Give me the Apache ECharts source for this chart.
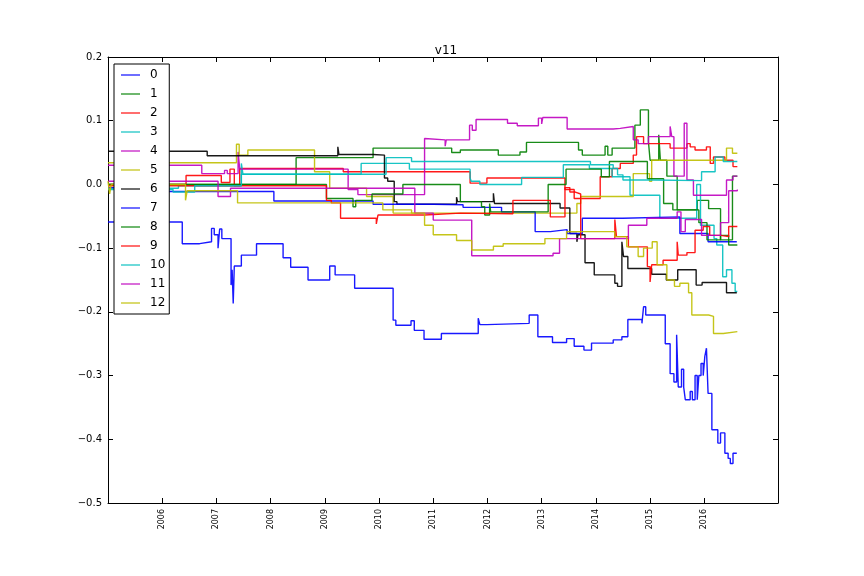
<!DOCTYPE html>
<html>
<head>
<meta charset="utf-8">
<script src="https://cdn.jsdelivr.net/npm/echarts@6/dist/echarts.min.js"></script>
<style>
  html, body { margin: 0; padding: 0; background: #fff; }
  #main { width: 864px; height: 576px; }
</style>
</head>
<body>
<div id="main"></div>
<script>
// series names and year ticks
var names = ['0','1','2','3','4','5','6','7','8','9','10','11','12'];
var yearTicks = [2006,2007,2008,2009,2010,2011,2012,2013,2014,2015,2016];
var colors = ['#0000ff','#008000','#ff0000','#00bfbf','#bf00bf','#bfbf00','#000000',
              '#0000ff','#008000','#ff0000','#00bfbf','#bf00bf','#bfbf00'];

// [decimal year, value] step points
var s0 = [[2005.00,-0.059],[2006.37,-0.093],[2006.69,-0.090],[2006.91,-0.069],[2006.96,-0.079],[2007.03,-0.100],[2007.06,-0.070],[2007.10,-0.085],[2007.27,-0.158],[2007.29,-0.134],[2007.31,-0.187],[2007.33,-0.128],[2007.46,-0.111],[2007.74,-0.093],[2008.23,-0.115],[2008.37,-0.130],[2008.69,-0.150],[2009.09,-0.128],[2009.19,-0.142],[2009.55,-0.163],[2010.26,-0.213],[2010.31,-0.221],[2010.59,-0.214],[2010.65,-0.229],[2010.83,-0.243],[2011.15,-0.234],[2011.83,-0.210],[2011.86,-0.220],[2011.99,-0.218],[2012.77,-0.205],[2012.93,-0.239],[2013.20,-0.248],[2013.46,-0.242],[2013.60,-0.254],[2013.78,-0.260],[2013.92,-0.249],[2014.32,-0.244],[2014.48,-0.239],[2014.59,-0.212],[2014.85,-0.218],[2014.88,-0.192],[2014.92,-0.205],[2015.28,-0.250],[2015.37,-0.297],[2015.44,-0.310],[2015.49,-0.236],[2015.52,-0.318],[2015.58,-0.290],[2015.62,-0.318],[2015.65,-0.338],[2015.74,-0.325],[2015.78,-0.338],[2015.83,-0.300],[2015.87,-0.338],[2015.90,-0.300],[2015.94,-0.281],[2015.98,-0.300],[2016.01,-0.270],[2016.04,-0.257],[2016.07,-0.328],[2016.14,-0.385],[2016.25,-0.406],[2016.30,-0.390],[2016.38,-0.422],[2016.44,-0.430],[2016.48,-0.438],[2016.53,-0.422],[2016.60,-0.422]];
var s1 = [[2005.00,0.000],[2008.47,0.042],[2009.89,0.057],[2011.34,0.050],[2011.50,0.054],[2012.20,0.046],[2012.60,0.051],[2012.72,0.066],[2013.68,0.054],[2013.75,0.046],[2014.17,0.060],[2014.22,0.046],[2014.30,0.057],[2014.72,0.093],[2014.82,0.117],[2014.97,0.067],[2015.00,0.038],[2015.16,0.078],[2015.19,0.038],[2015.31,0.013],[2015.50,-0.040],[2015.87,-0.025],[2016.08,-0.038],[2016.30,-0.087],[2016.52,0.013],[2016.61,0.013]];
var s2 = [[2005.00,0.000],[2006.44,0.014],[2007.09,0.003],[2007.25,0.024],[2007.33,-0.002],[2007.43,0.025],[2009.34,0.020],[2011.68,0.002],[2011.99,0.010],[2013.43,-0.008],[2013.60,-0.022],[2014.08,0.012],[2014.30,0.025],[2014.45,0.033],[2014.69,0.046],[2014.75,0.075],[2014.88,0.064],[2015.37,0.057],[2015.68,0.064],[2015.74,0.059],[2015.83,0.054],[2016.04,0.059],[2016.11,0.033],[2016.17,0.043],[2016.38,0.038],[2016.53,0.028],[2016.61,0.028]];
var s3 = [[2005.00,-0.006],[2006.30,-0.002],[2007.46,0.033],[2007.49,0.016],[2009.67,0.033],[2010.56,0.024],[2011.68,0.010],[2011.70,0.005],[2011.86,0.000],[2012.63,0.011],[2013.40,0.031],[2013.88,0.025],[2014.30,0.012],[2014.63,-0.017],[2015.18,-0.053],[2015.86,0.000],[2015.93,-0.064],[2016.18,-0.085],[2016.23,-0.095],[2016.34,-0.145],[2016.41,-0.134],[2016.51,-0.155],[2016.57,-0.168],[2016.61,-0.168]];
var s4 = [[2005.00,0.030],[2006.73,0.017],[2007.15,0.022],[2007.20,0.017],[2007.40,0.051],[2007.43,0.024],[2009.43,-0.008],[2009.61,-0.016],[2010.84,0.072],[2010.87,0.070],[2011.22,0.060],[2011.24,0.070],[2011.67,0.093],[2011.72,0.085],[2011.79,0.102],[2012.37,0.096],[2012.55,0.092],[2012.94,0.104],[2013.00,0.095],[2013.02,0.105],[2013.47,0.087],[2014.32,0.088],[2014.45,0.091],[2014.69,0.070],[2014.78,0.064],[2014.97,0.075],[2015.37,0.091],[2015.40,0.075],[2015.44,0.013],[2015.63,0.096],[2015.68,0.007],[2015.80,-0.017],[2016.41,0.007],[2016.53,0.013],[2016.61,0.013]];
var s5 = [[2005.00,0.034],[2007.37,0.063],[2007.42,0.046],[2007.58,0.054],[2008.81,0.020],[2009.09,-0.006],[2009.77,-0.019],[2010.26,-0.040],[2010.60,-0.045],[2013.65,-0.030],[2013.72,-0.019],[2014.69,0.017],[2014.99,0.005],[2015.03,0.038],[2016.41,0.057],[2016.52,0.049],[2016.61,0.049]];
var s6 = [[2005.00,0.052],[2006.83,0.045],[2009.24,0.059],[2009.26,0.047],[2009.89,0.046],[2010.10,0.010],[2010.16,0.005],[2010.28,-0.027],[2010.33,-0.031],[2011.43,-0.020],[2011.45,-0.027],[2012.11,-0.014],[2012.13,-0.030],[2013.34,-0.037],[2013.52,-0.077],[2013.65,-0.090],[2013.67,-0.079],[2013.80,-0.123],[2013.97,-0.142],[2014.35,-0.155],[2014.40,-0.160],[2014.48,-0.090],[2014.51,-0.113],[2014.59,-0.132],[2015.03,-0.141],[2015.30,-0.150],[2015.51,-0.134],[2015.85,-0.158],[2015.96,-0.154],[2016.41,-0.170],[2016.60,-0.170]];
var s7 = [[2005.00,-0.005],[2005.60,-0.011],[2008.06,-0.026],[2009.89,-0.031],[2011.00,-0.032],[2011.55,-0.036],[2012.26,-0.043],[2012.88,-0.074],[2013.16,-0.071],[2013.47,-0.077],[2013.75,-0.053],[2014.50,-0.051],[2015.55,-0.077],[2016.07,-0.090],[2016.60,-0.090]];
var s8 = [[2005.00,0.000],[2009.03,-0.022],[2009.52,-0.035],[2009.57,-0.025],[2009.87,-0.015],[2010.44,0.000],[2011.50,-0.027],[2011.89,-0.035],[2011.95,-0.048],[2012.04,-0.030],[2012.06,-0.043],[2013.12,0.000],[2013.45,0.024],[2014.10,0.012],[2014.25,0.036],[2014.95,0.009],[2015.25,-0.030],[2015.42,-0.040],[2015.90,-0.060],[2016.05,-0.087],[2016.30,-0.080],[2016.45,-0.095],[2016.61,-0.095]];
var s9 = [[2005.00,-0.002],[2009.03,-0.025],[2009.12,-0.029],[2009.29,-0.053],[2009.95,-0.062],[2009.98,-0.048],[2010.84,-0.045],[2011.50,-0.046],[2012.47,-0.025],[2013.16,-0.051],[2013.43,-0.005],[2013.52,-0.012],[2013.62,-0.015],[2013.72,-0.085],[2014.35,-0.055],[2014.38,-0.082],[2014.60,-0.098],[2014.95,-0.129],[2015.00,-0.153],[2015.03,-0.126],[2015.24,-0.119],[2015.50,-0.090],[2015.52,-0.111],[2015.68,-0.107],[2015.83,-0.072],[2015.98,-0.066],[2016.10,-0.080],[2016.30,-0.082],[2016.45,-0.066],[2016.61,-0.066]];
var s10 = [[2005.00,-0.008],[2006.20,-0.012],[2006.60,-0.002],[2007.46,0.016],[2010.13,0.042],[2010.60,0.036],[2013.90,0.031],[2014.32,0.025],[2014.40,0.015],[2014.50,0.007],[2015.03,0.006],[2015.95,0.020],[2016.20,0.043],[2016.35,0.036],[2016.61,0.036]];
var s11 = [[2005.00,0.005],[2007.03,-0.019],[2007.26,-0.006],[2010.66,-0.045],[2011.00,-0.056],[2011.71,-0.112],[2013.21,-0.108],[2013.33,-0.085],[2014.60,-0.064],[2014.94,-0.053],[2015.50,-0.043],[2015.57,-0.074],[2015.65,-0.055],[2015.95,-0.080],[2016.30,-0.060],[2016.45,-0.010],[2016.61,-0.008]];
var s12 = [[2005.00,0.005],[2005.03,-0.015],[2005.06,0.000],[2006.43,-0.025],[2006.46,-0.010],[2007.39,-0.029],[2010.07,-0.040],[2010.26,-0.045],[2010.84,-0.064],[2011.00,-0.079],[2011.43,-0.088],[2011.71,-0.103],[2012.11,-0.097],[2012.29,-0.093],[2013.06,-0.085],[2013.46,-0.074],[2014.35,-0.082],[2014.57,-0.098],[2014.78,-0.113],[2014.88,-0.100],[2015.04,-0.090],[2015.13,-0.126],[2015.31,-0.150],[2015.45,-0.160],[2015.55,-0.155],[2015.71,-0.170],[2015.77,-0.205],[2016.08,-0.207],[2016.17,-0.234],[2016.35,-0.231],[2016.61,-0.231]];

var allData = [s0,s1,s2,s3,s4,s5,s6,s7,s8,s9,s10,s11,s12];
var font = 'DejaVu Sans';

var chart = echarts.init(document.getElementById('main'));

function fmtY(v) {
  if (Math.abs(v) < 1e-9) return '0.0';
  return (v < 0 ? '\u2212' : '') + Math.abs(v).toFixed(1);
}

var series = names.map(function (n, i) {
  return {
    name: n,
    type: 'line',
    step: 'end',
    symbol: 'none',
    data: allData[i],
    lineStyle: { color: colors[i], width: 1.4, opacity: 0.9 },
    itemStyle: { color: colors[i] }
  };
});

// legend entries drawn as short flat lines
var legendData = names.map(function (n) {
  return { name: n, icon: 'path://M0,0H40V2.4H0Z' };
});

var axisLine = { show: true, onZero: false, lineStyle: { color: '#000', width: 1 } };

chart.setOption({
  animation: false,
  backgroundColor: '#fff',
  title: {
    text: 'v11',
    left: 441,
    top: 40,
    textAlign: 'center',
    textStyle: { fontSize: 12, fontWeight: 'normal', color: '#000', fontFamily: font }
  },
  legend: {
    data: legendData,
    orient: 'vertical',
    left: 114,
    top: 64,
    backgroundColor: '#fff',
    borderColor: '#000',
    borderWidth: 1,
    padding: [5, 4, 5, 7],
    itemWidth: 19,
    itemHeight: 12,
    itemGap: 7,
    symbolKeepAspect: true,
    textStyle: { fontSize: 12, color: '#000', fontFamily: font, padding: [0, 0, 0, 5] }
  },
  grid: { left: 108, right: 86, top: 57, bottom: 73 },
  xAxis: [{
    type: 'value', min: 2005, max: 2017.36, position: 'bottom',
    axisLine: axisLine,
    splitLine: { show: false },
    axisTick: { inside: true, length: 5, customValues: yearTicks, lineStyle: { color: '#000' } },
    axisLabel: { customValues: yearTicks, rotate: 90, fontSize: 8, margin: 6, color: '#000', fontFamily: font,
                 formatter: function (v) { return String(v); } }
  }, {
    type: 'value', min: 2005, max: 2017.36, position: 'top',
    axisLine: axisLine,
    splitLine: { show: false },
    axisTick: { inside: true, length: 5, customValues: yearTicks, lineStyle: { color: '#000' } },
    axisLabel: { show: false }
  }],
  yAxis: [{
    type: 'value', min: -0.5, max: 0.2, interval: 0.1, position: 'left',
    axisLine: axisLine,
    splitLine: { show: false },
    axisTick: { inside: true, length: 5, lineStyle: { color: '#000' } },
    axisLabel: { fontSize: 10, margin: 6, color: '#000', fontFamily: font, formatter: fmtY }
  }, {
    type: 'value', min: -0.5, max: 0.2, interval: 0.1, position: 'right',
    axisLine: axisLine,
    splitLine: { show: false },
    axisTick: { inside: true, length: 5, lineStyle: { color: '#000' } },
    axisLabel: { show: false }
  }],
  series: series
});
</script>
</body>
</html>
